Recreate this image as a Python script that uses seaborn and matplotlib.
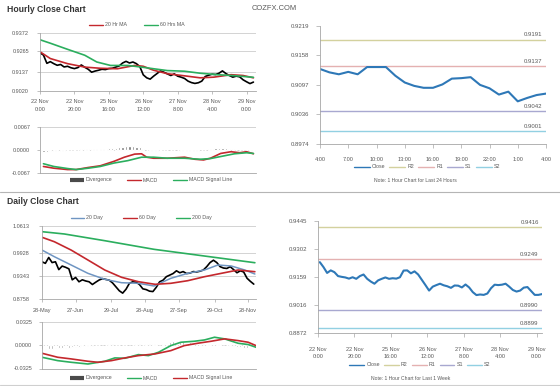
import matplotlib
matplotlib.use("Agg")
import matplotlib.pyplot as plt
from matplotlib.lines import Line2D
import seaborn as sns

W, H = 560, 386

# ---------------- hourly close chart (top left) ----------------
hourly_xtick_labels = ["22 Nov\n0:00", "22 Nov\n20:00", "25 Nov\n16:00", "26 Nov\n12:00",
                       "27 Nov\n8:00", "28 Nov\n4:00", "29 Nov\n0:00"]
hourly_yticks = [0.9020, 0.9137, 0.9265, 0.9372]
hourly_hours = list(range(0, 126, 2))
hourly_close = [0.9252, 0.9238, 0.9188, 0.9198, 0.9186, 0.9176, 0.9181, 0.9166, 0.9170, 0.9161,
                0.9156, 0.9162, 0.9178, 0.9164, 0.9152, 0.9134, 0.9141, 0.9146, 0.9152, 0.9150,
                0.9156, 0.9158, 0.9165, 0.9172, 0.9190, 0.9200, 0.9190, 0.9196, 0.9186, 0.9168,
                0.9118, 0.9100, 0.9092, 0.9110, 0.9126, 0.9142, 0.9134, 0.9124, 0.9114, 0.9124,
                0.9110, 0.9104, 0.9096, 0.9080, 0.9071, 0.9066, 0.9070, 0.9080, 0.9108, 0.9116,
                0.9122, 0.9120, 0.9128, 0.9142, 0.9126, 0.9114, 0.9104, 0.9110, 0.9106, 0.9088,
                0.9076, 0.9065, 0.9074]
ma20_hours = [0, 6, 16, 26, 35, 45, 55, 60, 66, 74, 84, 93, 101, 111, 118, 124]
ma20_vals = [0.9258, 0.9217, 0.9186, 0.9165, 0.9158, 0.9155, 0.9175, 0.9170, 0.9146, 0.9125,
             0.9112, 0.9100, 0.9104, 0.9119, 0.9114, 0.9100]
ma60_hours = [0, 6, 16, 26, 33, 41, 51, 59, 66, 74, 84, 93, 103, 113, 124]
ma60_vals = [0.9331, 0.9310, 0.9273, 0.9237, 0.9196, 0.9175, 0.9175, 0.9165, 0.9155, 0.9144,
             0.9140, 0.9128, 0.9119, 0.9113, 0.9103]

# hourly MACD
hourly_div = [-0.0004, -0.0005, -0.0005, -0.0004, -0.0004, -0.0003, -0.0003, -0.0002, -0.0001, 0.0000,
              0.0001, 0.0001, 0.0002, 0.0002, 0.0002, 0.0002, 0.0003, 0.0003, 0.0004, 0.0004,
              0.0005, 0.0005, 0.0006, 0.0008, 0.0010, 0.0012, 0.0012, 0.0011, 0.0010, 0.0008,
              0.0003, -0.0001, -0.0003, -0.0003, -0.0002, -0.0001, -0.0001, 0.0000, 0.0001, 0.0000,
              -0.0001, -0.0002, -0.0002, -0.0003, -0.0003, -0.0002, -0.0002, -0.0001, 0.0001, 0.0003,
              0.0004, 0.0005, 0.0006, 0.0006, 0.0005, 0.0004, 0.0002, 0.0001, 0.0001, 0.0000,
              -0.0001, -0.0002, -0.0003]
h_macd_hours = [2, 8, 16, 21, 28, 35, 43, 49, 55, 59, 62, 66, 74, 84, 90, 95, 99, 105, 111, 116, 120, 124]
h_macd_vals = [-0.0048, -0.0053, -0.0057, -0.0057, -0.0051, -0.0046, -0.0033, -0.0021, -0.0012, -0.0011,
               -0.0021, -0.0024, -0.0024, -0.0021, -0.0027, -0.0029, -0.0024, -0.0010, -0.0005, -0.0008,
               -0.0005, -0.0011]
h_signal_hours = [2, 8, 16, 21, 28, 35, 43, 51, 59, 66, 74, 84, 93, 99, 105, 113, 120, 124]
h_signal_vals = [-0.0040, -0.0048, -0.0054, -0.0057, -0.0053, -0.0048, -0.0038, -0.0031, -0.0021, -0.0021,
                 -0.0024, -0.0024, -0.0027, -0.0025, -0.0019, -0.0011, -0.0008, -0.0010]
h_macd_yticks = [-0.0067, 0.0, 0.0067]

# ---------------- last 24 hours (top right) ----------------
day24_labels = ["4:00", "7:00", "10:00", "13:00", "16:00", "19:00", "22:00", "1:00", "4:00"]
day24_close = [0.9130, 0.9123, 0.9119, 0.9124, 0.9119, 0.9134, 0.9134, 0.9134, 0.9116, 0.9102,
               0.9095, 0.9091, 0.9091, 0.9098, 0.9110, 0.9111, 0.9113, 0.9097, 0.9090, 0.9077,
               0.9083, 0.9063, 0.9070, 0.9076, 0.9079]
day24_yticks = [0.8974, 0.9036, 0.9097, 0.9158, 0.9219]
day24_levels = [0.9191, 0.9137, 0.9042, 0.9001]

# ---------------- daily close chart (bottom left) ----------------
daily_xtick_days = [0, 30, 62, 92, 122, 154, 184]
daily_xtick_labels = ["28-May", "27-Jun", "29-Jul", "28-Aug", "27-Sep", "29-Oct", "28-Nov"]
daily_yticks = [0.8758, 0.9343, 0.9928, 1.0613]
daily_days = list(range(0, 190, 3))
daily_close = [0.9700, 0.9660, 0.9810, 0.9680, 0.9700, 0.9500, 0.9590, 0.9560, 0.9520, 0.9240,
               0.9300, 0.9190, 0.9240, 0.9210, 0.9190, 0.9120, 0.9180, 0.9235, 0.9270, 0.9250,
               0.9230, 0.9160, 0.9060, 0.8960, 0.8900, 0.9000, 0.9150, 0.9190, 0.9180, 0.9120,
               0.9010, 0.8990, 0.8950, 0.8940, 0.9050, 0.9190, 0.9230, 0.9320, 0.9360, 0.9400,
               0.9470, 0.9420, 0.9450, 0.9400, 0.9410, 0.9450, 0.9440, 0.9460, 0.9490, 0.9575,
               0.9680, 0.9740, 0.9680, 0.9575, 0.9540, 0.9530, 0.9575, 0.9500, 0.9420, 0.9470,
               0.9440, 0.9280, 0.9200, 0.9130]
d20_days = [0, 11, 26, 41, 56, 71, 86, 100, 115, 130, 145, 157, 169, 181, 190]
d20_vals = [0.9999, 0.9830, 0.9618, 0.9405, 0.9253, 0.9166, 0.9151, 0.9082, 0.9278, 0.9405,
            0.9490, 0.9618, 0.9592, 0.9490, 0.9388]
d60_days = [0, 11, 26, 41, 56, 71, 86, 101, 115, 130, 145, 160, 175, 190]
d60_vals = [1.0325, 1.0212, 0.9999, 0.9745, 0.9490, 0.9304, 0.9192, 0.9125, 0.9151, 0.9217,
            0.9319, 0.9405, 0.9490, 0.9447]
d200_days = [0, 20, 56, 100, 145, 190]
d200_vals = [1.0468, 1.0409, 1.0238, 1.0018, 0.9847, 0.9676]

# daily MACD
daily_div = [-0.0055, -0.0055, -0.0050, -0.0048, -0.0045, -0.0042, -0.0040, -0.0035, -0.0032, -0.0028,
             -0.0025, -0.0020, -0.0016, -0.0012, -0.0010, -0.0006, -0.0003, 0.0000, 0.0004, 0.0008,
             0.0012, 0.0014, 0.0010, 0.0006, 0.0002, 0.0000, 0.0004, 0.0008, 0.0012, 0.0014,
             0.0010, 0.0012, 0.0018, 0.0022, 0.0015, 0.0010, 0.0018, 0.0030, 0.0045, 0.0055,
             0.0060, 0.0062, 0.0058, 0.0050, 0.0040, 0.0032, 0.0028, 0.0024, 0.0020, 0.0018,
             0.0022, 0.0025, 0.0020, 0.0012, 0.0005, 0.0000, -0.0008, -0.0015, -0.0022, -0.0030,
             -0.0035, -0.0038, -0.0034, -0.0028]
d_macd_days = [0, 14, 26, 41, 56, 65, 74, 86, 95, 104, 115, 124, 136, 145, 154, 163, 175, 184, 191]
d_macd_vals = [-0.0168, -0.0215, -0.0238, -0.0262, -0.0224, -0.0177, -0.0182, -0.0131, -0.0145, -0.0098,
               -0.0005, 0.0042, 0.0056, 0.0074, 0.0112, 0.0089, 0.0028, 0.0010, -0.0028]
d_signal_days = [0, 14, 26, 41, 50, 62, 74, 86, 101, 115, 127, 139, 151, 163, 175, 184, 191]
d_signal_vals = [-0.0112, -0.0168, -0.0191, -0.0224, -0.0238, -0.0215, -0.0177, -0.0145, -0.0121, -0.0075,
                 -0.0005, 0.0028, 0.0056, 0.0089, 0.0065, 0.0042, -0.0005]
d_macd_yticks = [-0.0325, 0.0, 0.0325]

# ---------------- last week (bottom right) ----------------
week_hours = list(range(1, 124, 2))
week_close = [0.9235, 0.9210, 0.9180, 0.9193, 0.9184, 0.9164, 0.9160, 0.9157, 0.9151, 0.9158,
              0.9150, 0.9164, 0.9172, 0.9150, 0.9136, 0.9125, 0.9142, 0.9150, 0.9157, 0.9150,
              0.9153, 0.9151, 0.9158, 0.9192, 0.9193, 0.9178, 0.9188, 0.9172, 0.9145, 0.9118,
              0.9090, 0.9110, 0.9118, 0.9125, 0.9117, 0.9112, 0.9104, 0.9116, 0.9115, 0.9106,
              0.9121, 0.9106, 0.9082, 0.9067, 0.9070, 0.9068, 0.9075, 0.9102, 0.9120, 0.9118,
              0.9120, 0.9125, 0.9110, 0.9093, 0.9085, 0.9090, 0.9105, 0.9108, 0.9088, 0.9068,
              0.9068, 0.9072]
week_yticks = [0.8872, 0.9016, 0.9159, 0.9302, 0.9445]
week_levels = [0.9416, 0.9249, 0.8990, 0.8899]

level_names = ["R2", "R1", "S1", "S2"]
level_colors = ["#d3d19e", "#e4b1b1", "#a8a8d0", "#92d0e2"]
close_color = "#2e78b7"
RED, GREEN, BLUE = "#c4282d", "#2bae5e", "#6f95c2"
TXT = "#595959"

sns.set_theme(style="white")
plt.rcParams["font.family"] = ["Liberation Sans", "DejaVu Sans"]

fig = plt.figure(figsize=(5.6, 3.86), dpi=100)


def axes_px(left, top, right, bottom):
    return fig.add_axes([left / W, 1 - bottom / H, (right - left) / W, (bottom - top) / H])


def style(ax, grid=True, ypad=5, xpad=3):
    sns.despine(ax=ax)
    for s in ("left", "bottom"):
        ax.spines[s].set_color("#a6a6a6")
        ax.spines[s].set_linewidth(0.6)
    ax.tick_params(axis="both", labelsize=4.0, labelcolor=TXT, color="#a6a6a6",
                   length=2, width=0.5, left=True, bottom=True)
    ax.tick_params(axis="y", pad=ypad)
    ax.tick_params(axis="x", pad=xpad)
    ax.grid(False)
    if grid:
        ax.yaxis.grid(True, color="#cccccc", linewidth=0.6)
    ax.set_axisbelow(True)
    ax.set_xlabel("")
    ax.set_ylabel("")


def legend(handles, labels, cx, cy, spacing=3.0, hl=2.6):
    fig.legend(handles, labels, loc="center", bbox_to_anchor=(cx / W, 1 - cy / H), ncol=len(labels),
               frameon=False, fontsize=3.8, labelcolor=TXT, handlelength=hl, handletextpad=0.4,
               columnspacing=spacing, borderpad=0)


def div_handle():
    return Line2D([], [], color="#4a4a4a", lw=3, solid_capstyle="butt")


def levels(ax, vals):
    for v, c in zip(vals, level_colors):
        ax.axhline(v, color=c, linewidth=1.0, zorder=1)
        ax.annotate(f"{v:.4f}", xy=(0.985, v), xycoords=ax.get_yaxis_transform(), xytext=(0, 1.5),
                    textcoords="offset points", ha="right", va="bottom", fontsize=4.3, color=TXT)


# hourly price panel
ax = axes_px(40, 33, 256, 91)
sns.lineplot(x=hourly_hours, y=hourly_close, ax=ax, color="black", linewidth=1.2)
sns.lineplot(x=ma20_hours, y=ma20_vals, ax=ax, color=RED, linewidth=1.2)
sns.lineplot(x=ma60_hours, y=ma60_vals, ax=ax, color=GREEN, linewidth=1.2)
ax.set_xlim(0, 125.5)
ax.set_ylim(hourly_yticks[0], hourly_yticks[-1])
ax.set_xticks(range(0, 121, 20))
ax.set_xticklabels(hourly_xtick_labels, linespacing=1.7)
ax.set_yticks(hourly_yticks)
ax.set_yticklabels([f"{v:.4f}" for v in hourly_yticks])
style(ax, ypad=6, xpad=4)
legend([Line2D([], [], color=RED, lw=1), Line2D([], [], color=GREEN, lw=1)],
       ["20 Hr MA", "60 Hrs MA"], 137, 25, spacing=3.2)

# hourly MACD panel
ax = axes_px(40, 127, 256, 173)
ax.bar(hourly_hours, hourly_div, width=1.3, color="#707070", zorder=2)
sns.lineplot(x=h_macd_hours, y=h_macd_vals, ax=ax, color=RED, linewidth=1.2)
sns.lineplot(x=h_signal_hours, y=h_signal_vals, ax=ax, color=GREEN, linewidth=1.2)
ax.set_xlim(0, 125.5)
ax.set_ylim(h_macd_yticks[0], h_macd_yticks[-1])
ax.set_xticks([])
ax.set_yticks(h_macd_yticks)
ax.set_yticklabels([f"{v:.4f}" for v in h_macd_yticks])
style(ax, ypad=5)
legend([div_handle(), Line2D([], [], color=RED, lw=1), Line2D([], [], color=GREEN, lw=1)],
       ["Divergence", "MACD", "MACD Signal Line"], 151, 180, spacing=2.8)

# last 24 hours panel
ax = axes_px(320, 26, 546, 144.3)
levels(ax, day24_levels)
sns.lineplot(x=list(range(len(day24_close))), y=day24_close, ax=ax, color=close_color, linewidth=1.5)
ax.set_xlim(0, 24)
ax.set_ylim(day24_yticks[0], day24_yticks[-1])
ax.set_xticks(range(0, 25, 3))
ax.set_xticklabels(day24_labels)
ax.set_yticks(day24_yticks)
ax.set_yticklabels([f"{v:.4f}" for v in day24_yticks])
style(ax, grid=False, ypad=5, xpad=6)
ax.tick_params(axis="both", length=3)
ax.tick_params(axis="y", labelsize=4.3)
legend([Line2D([], [], color=close_color, lw=1)] + [Line2D([], [], color=c, lw=1) for c in level_colors],
       ["Close"] + level_names, 427, 167, spacing=0.8, hl=3.0)
fig.text(415 / W, 1 - 180 / H, "Note: 1 Hour Chart for Last 24 Hours", fontsize=3.6, color=TXT,
         ha="center", va="center")

# daily price panel
ax = axes_px(42, 226, 256, 298.7)
sns.lineplot(x=daily_days, y=daily_close, ax=ax, color="black", linewidth=1.2)
sns.lineplot(x=d20_days, y=d20_vals, ax=ax, color=BLUE, linewidth=1.1)
sns.lineplot(x=d60_days, y=d60_vals, ax=ax, color=RED, linewidth=1.2)
sns.lineplot(x=d200_days, y=d200_vals, ax=ax, color=GREEN, linewidth=1.2)
ax.set_xlim(0, 191)
ax.set_ylim(daily_yticks[0], daily_yticks[-1])
ax.set_xticks(daily_xtick_days)
ax.set_xticklabels(daily_xtick_labels)
ax.set_yticks(daily_yticks)
ax.set_yticklabels([f"{v:.4f}" for v in daily_yticks])
style(ax, ypad=7, xpad=5)
legend([Line2D([], [], color=BLUE, lw=1), Line2D([], [], color=RED, lw=1),
        Line2D([], [], color=GREEN, lw=1)],
       ["20 Day", "60 Day", "200 Day"], 141, 218, spacing=3.8)

# daily MACD panel
ax = axes_px(42, 322, 256, 368.5)
ax.bar(daily_days, daily_div, width=1.5, color="#9a9a9a", zorder=2)
sns.lineplot(x=d_macd_days, y=d_macd_vals, ax=ax, color=GREEN, linewidth=1.2)
sns.lineplot(x=d_signal_days, y=d_signal_vals, ax=ax, color=RED, linewidth=1.2)
ax.set_xlim(0, 191)
ax.set_ylim(d_macd_yticks[0], d_macd_yticks[-1])
ax.set_xticks([])
ax.set_yticks(d_macd_yticks)
ax.set_yticklabels([f"{v:.4f}" for v in d_macd_yticks])
style(ax, ypad=5)
legend([div_handle(), Line2D([], [], color=GREEN, lw=1), Line2D([], [], color=RED, lw=1)],
       ["Divergence", "MACD", "MACD Signal Line"], 151, 378, spacing=2.8)

# last week panel
ax = axes_px(318, 221, 542, 333.3)
levels(ax, week_levels)
sns.lineplot(x=week_hours, y=week_close, ax=ax, color=close_color, linewidth=1.5)
ax.set_xlim(0, 123)
ax.set_ylim(week_yticks[0], week_yticks[-1])
ax.set_xticks(range(0, 121, 20))
ax.set_xticklabels(hourly_xtick_labels, linespacing=1.5)
ax.set_yticks(week_yticks)
ax.set_yticklabels([f"{v:.4f}" for v in week_yticks])
style(ax, grid=False, ypad=5, xpad=7)
ax.tick_params(axis="both", length=3)
ax.tick_params(axis="y", labelsize=4.3)
legend([Line2D([], [], color=close_color, lw=1)] + [Line2D([], [], color=c, lw=1) for c in level_colors],
       ["Close"] + level_names, 420, 365, spacing=0.8, hl=2.8)
fig.text(411 / W, 1 - 379 / H, "Note: 1 Hour Chart for Last 1 Week", fontsize=3.6, color=TXT,
         ha="center", va="center")

# titles and separators
fig.text(7 / W, 1 - 9 / H, "Hourly Close Chart", fontsize=6.2, weight="bold", color="#333333", va="center")
fig.text(7 / W, 1 - 202 / H, "Daily Close Chart", fontsize=6.2, weight="bold", color="#333333", va="center")
fig.text(274 / W, 1 - 9 / H, "COZFX.COM", fontsize=5.4, color=TXT, ha="center", va="center")
fig.add_artist(Line2D([0, 1], [1 - 192 / H] * 2, color="#b5b5b5", linewidth=0.8))
fig.add_artist(Line2D([0, 1], [1 - 385 / H] * 2, color="#cfcfcf", linewidth=0.8))

fig.savefig("out.png", dpi=100)
